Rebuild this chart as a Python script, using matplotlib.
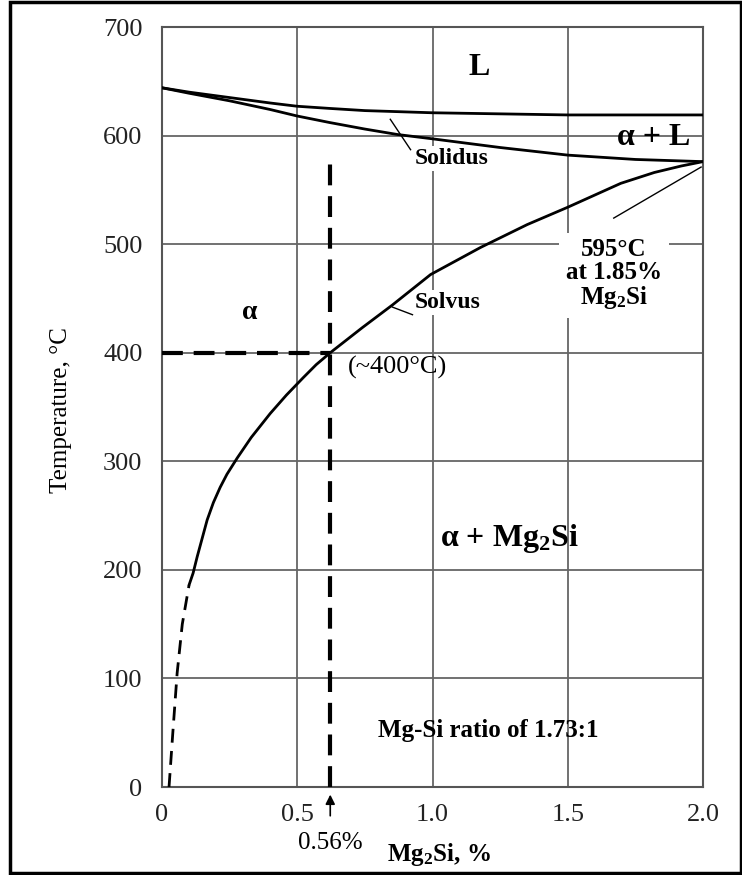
import matplotlib
matplotlib.use("Agg")
import matplotlib.pyplot as plt
from matplotlib.patches import Rectangle

plt.rcParams['font.family'] = ['Liberation Serif', 'DejaVu Serif']
plt.rcParams['mathtext.fontset'] = 'custom'
plt.rcParams['mathtext.rm'] = 'Liberation Serif'
plt.rcParams['mathtext.bf'] = 'Liberation Serif:bold'
plt.rcParams['mathtext.it'] = 'Liberation Serif:italic'

# ---- data ----
liq_x = [0.0, 0.1, 0.25, 0.4, 0.5, 0.62, 0.75, 1.0, 1.25, 1.5, 1.75, 2.0]
liq_t = [644, 640, 635, 630, 627, 625, 623, 621, 620, 619, 619, 619]

sol_x = [0.0, 0.1, 0.25, 0.4, 0.5, 0.62, 0.75, 0.87, 1.0, 1.25, 1.5, 1.75, 2.0]
sol_t = [644, 639, 632, 624, 618, 612, 606, 601, 597, 589, 582, 578, 576]

solv_x = [0.10, 0.115, 0.13, 0.167, 0.19, 0.215, 0.24, 0.278, 0.33, 0.40, 0.46,
          0.522, 0.57, 0.622, 0.74, 0.852, 0.993, 1.178, 1.35, 1.50, 1.696,
          1.82, 1.92, 2.0]
solv_t = [186, 197, 212, 246, 262, 276, 288, 303, 322, 344, 361,
          377, 389, 400, 423, 444, 472, 497, 518, 534, 556,
          566, 572, 576]

solv_dash_x = [0.026, 0.04, 0.056, 0.075, 0.10]
solv_dash_t = [0, 50, 105, 150, 186]

mark_x = 0.622        # position of the 0.56 % marker line on the drawn scale
mark_t = 400
mark_top = 575

x_ticks = [0, 0.5, 1.0, 1.5, 2.0]
x_ticklabels = ['0', '0.5', '1.0', '1.5', '2.0']
y_ticks = [0, 100, 200, 300, 400, 500, 600, 700]

# ---- figure ----
W, H = 742, 875
fig = plt.figure(figsize=(W / 100, H / 100), dpi=100)
ax = fig.add_axes([162 / W, 1 - 787 / H, (703 - 162) / W, (787 - 27) / H])

ax.set_xlim(0, 2.0)
ax.set_ylim(0, 700)
ax.set_xticks(x_ticks)
ax.set_xticklabels(x_ticklabels)
ax.set_yticks(y_ticks)
ax.tick_params(length=0, labelsize=19, colors='#222222')
ax.tick_params(axis='x', pad=12)
ax.tick_params(axis='y', pad=14)
ax.grid(True, color='#666666', lw=1.3)
ax.set_axisbelow(True)
for s in ax.spines.values():
    s.set_color('#555555')
    s.set_linewidth(1.5)

# curves
ax.plot(liq_x, liq_t, color='black', lw=2.0, solid_capstyle='round',
        solid_joinstyle='round', zorder=3)
ax.plot(sol_x, sol_t, color='black', lw=2.0, solid_capstyle='round',
        solid_joinstyle='round', zorder=3)
ax.plot(solv_x, solv_t, color='black', lw=2.0, solid_capstyle='round',
        solid_joinstyle='round', zorder=3)
ax.plot(solv_dash_x, solv_dash_t, color='black', lw=2.0, dashes=(5, 3), zorder=3)

# marker dashed lines
ax.plot([mark_x, mark_x], [0, mark_top], color='black', lw=3.0, dashes=(5, 2.6), zorder=4)
ax.plot([0, mark_x], [mark_t, mark_t], color='black', lw=3.0, dashes=(5, 2.6), zorder=4)

# leader lines
ax.plot([0.844, 0.919], [615, 587], color='black', lw=1.0, zorder=3)
ax.plot([0.852, 0.926], [442, 435], color='black', lw=1.0, zorder=3)
ax.plot([1.993, 1.670], [571, 524], color='black', lw=1.0, zorder=3)

wbox = dict(facecolor='white', edgecolor='none', pad=1.5)

ax.text(1.174, 663, 'L', fontsize=23, fontweight='bold', ha='center', va='center')
ax.text(1.819, 598, 'α + L', fontsize=23, fontweight='bold', ha='center', va='center')
ax.text(0.935, 579, 'Solidus', fontsize=17, fontweight='bold', ha='left', va='center',
        bbox=wbox, zorder=2)
ax.text(0.935, 446, 'Solvus', fontsize=17, fontweight='bold', ha='left', va='center',
        bbox=wbox, zorder=2)
ax.text(1.670, 472, '595°C\nat 1.85%\nMg$_{\\mathbf{2}}$Si', fontsize=18, fontweight='bold',
        ha='center', va='center', linespacing=1.0,
        bbox=dict(facecolor='white', edgecolor='none', pad=5), zorder=2)
ax.text(0.326, 437, 'α', fontsize=20, fontweight='bold', ha='center', va='center')
ax.text(0.870, 386, '(~400°C)', fontsize=19, ha='center', va='center')
ax.text(1.285, 229, 'α + Mg$_{\\mathbf{2}}$Si', fontsize=23, fontweight='bold',
        ha='center', va='center')
ax.text(1.207, 52, 'Mg-Si ratio of 1.73:1', fontsize=18, fontweight='bold',
        ha='center', va='center')

ax.annotate('0.56%', xy=(mark_x, -7), xytext=(mark_x, -52), textcoords='data',
            fontsize=18, ha='center', va='center', annotation_clip=False,
            arrowprops=dict(arrowstyle='-|>', color='black', lw=1.2,
                            mutation_scale=14, shrinkA=10, shrinkB=0))

fig.text(439 / W, 1 - 855 / H, 'Mg$_{\\mathbf{2}}$Si, %', fontsize=18, fontweight='bold',
         ha='center', va='center')
fig.text(61 / W, 1 - 410 / H, 'Temperature, °C', fontsize=18, rotation=90,
         ha='center', va='center')

# outer frame
fig.patches.append(Rectangle((10 / W, 2 / H), (741 - 10) / W, (873 - 2) / H,
                             transform=fig.transFigure, fill=False,
                             edgecolor='black', lw=2.5))

fig.savefig('out.png', dpi=100)
